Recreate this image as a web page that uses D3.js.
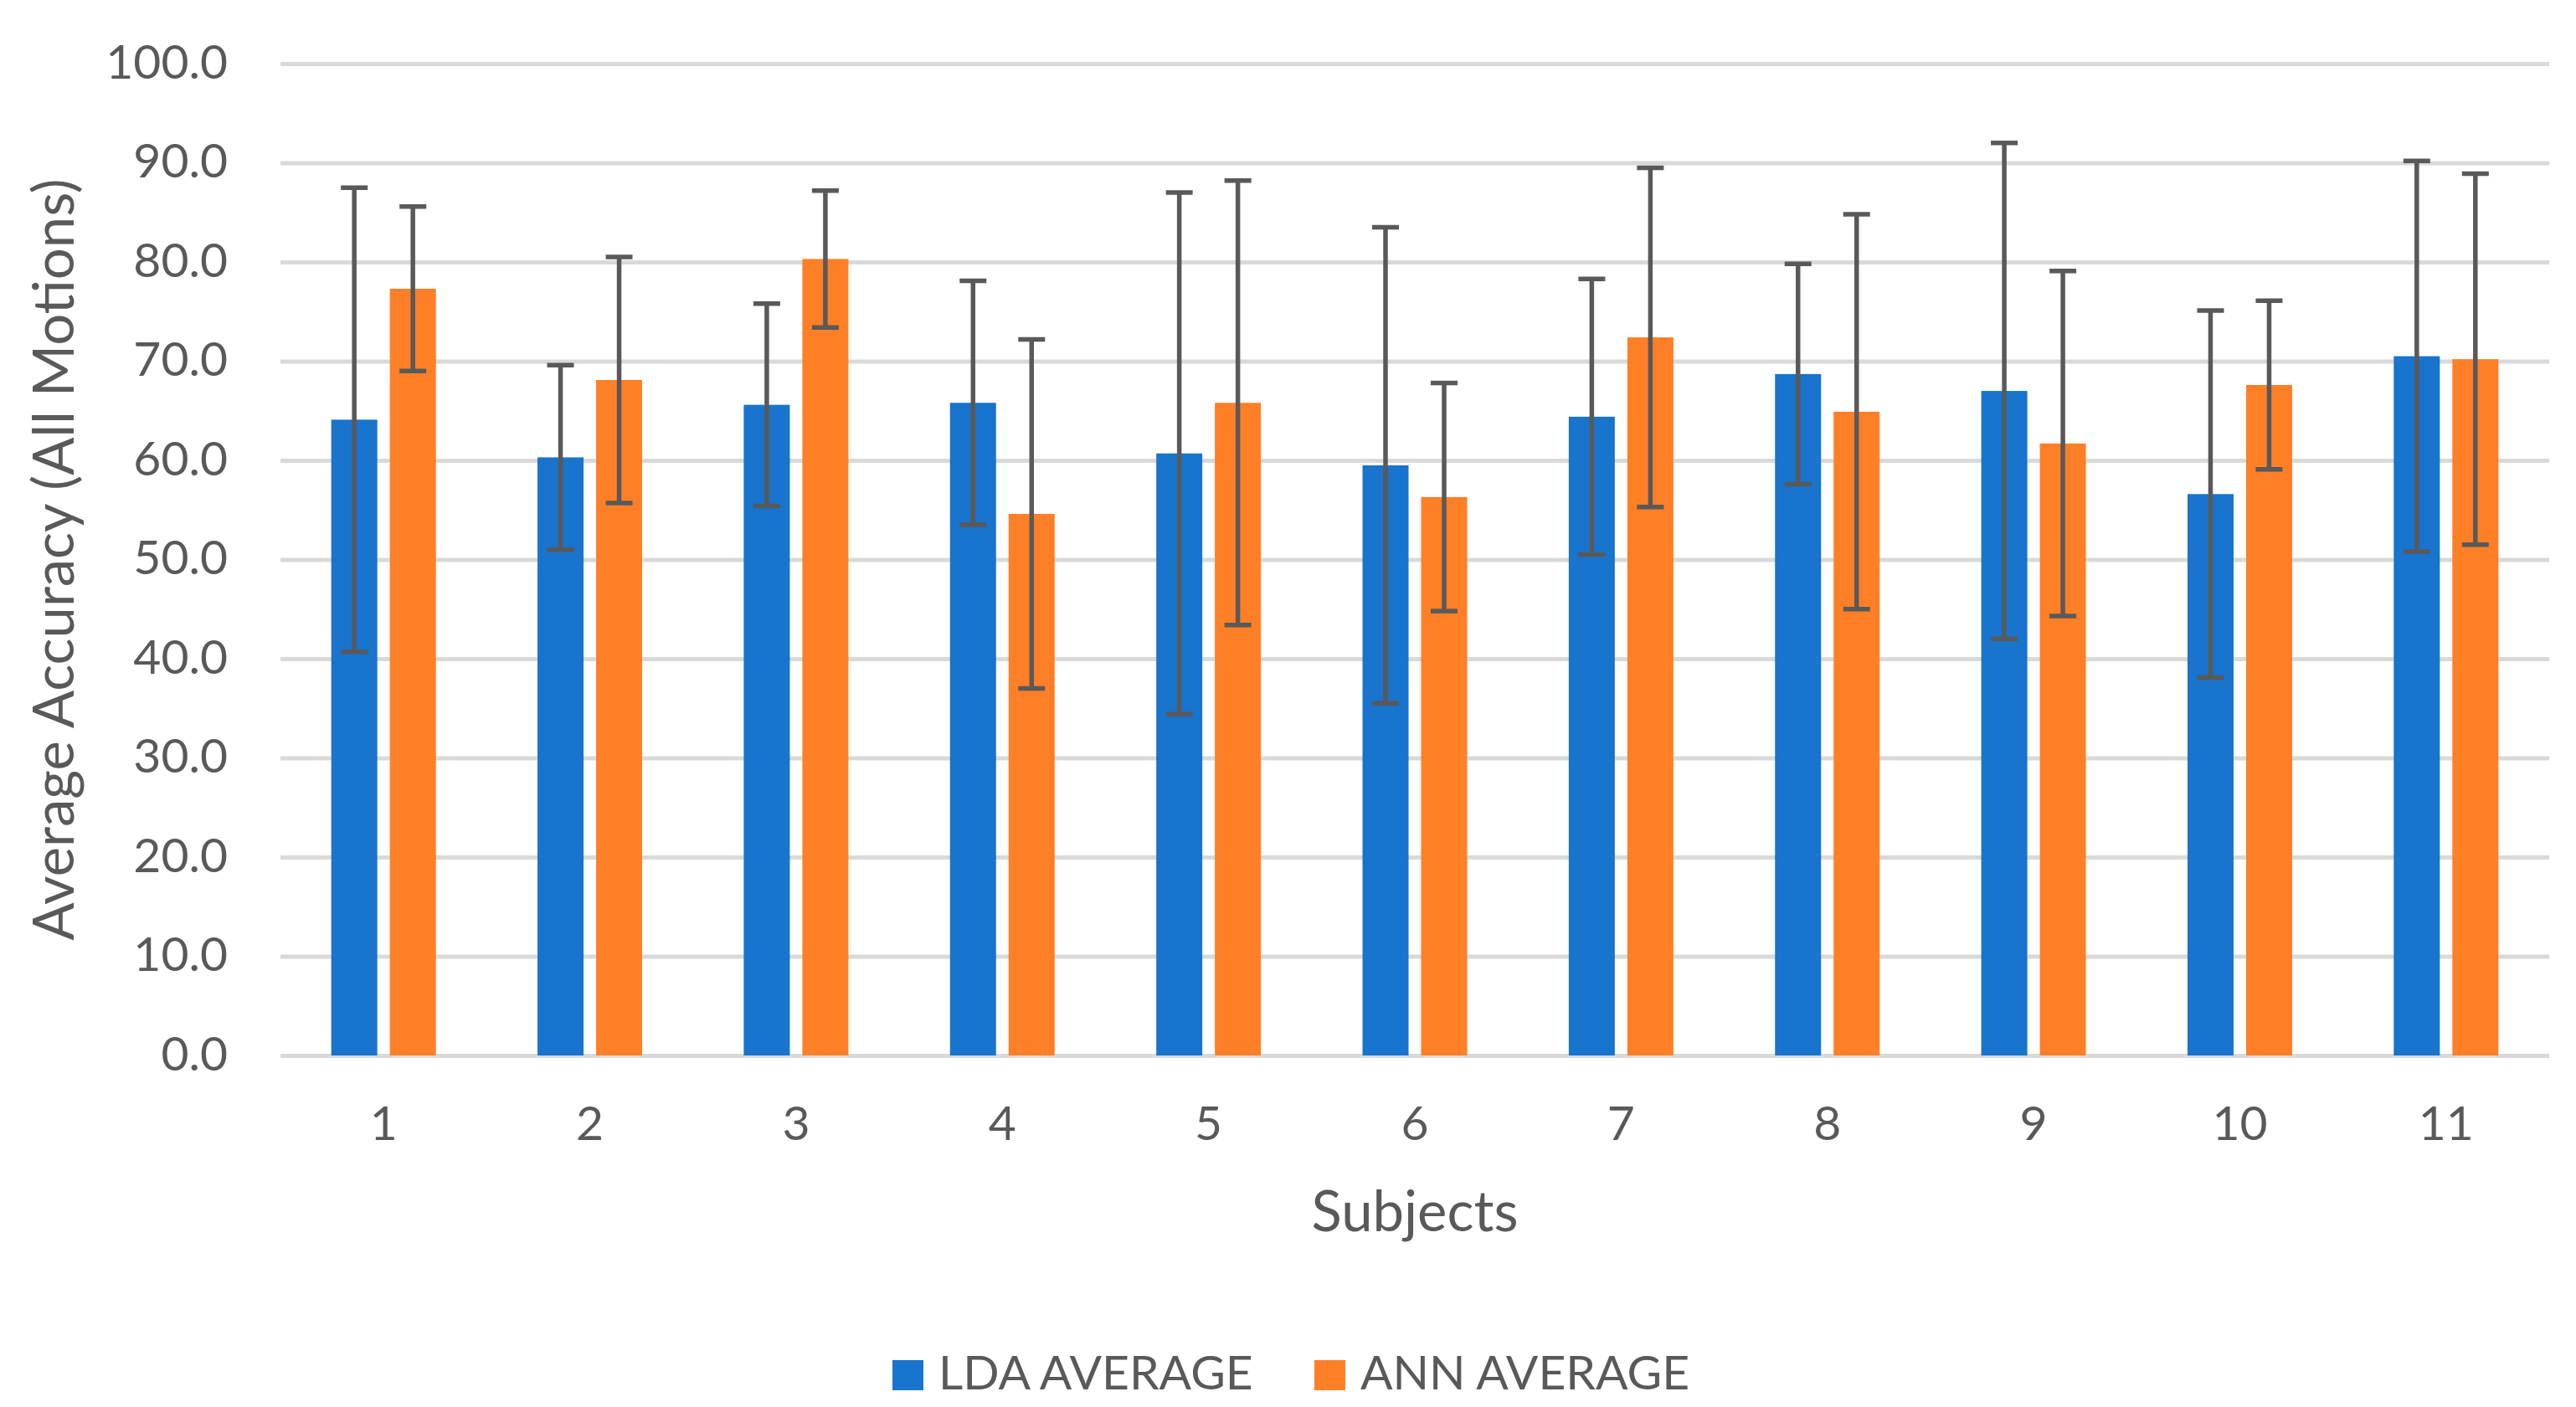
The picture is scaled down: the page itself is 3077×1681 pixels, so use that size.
<!DOCTYPE html>
<html>
<head>
<meta charset="utf-8">
<script src="https://cdn.jsdelivr.net/npm/d3@7"></script>
<style>
  body { margin: 0; background: #ffffff; }
  text { font-family: Lato, "Open Sans", sans-serif; fill: #595959; }
</style>
</head>
<body>
<div id="chart"></div>
<script>

/////////// DATA ******************************************
// *******************************************************************

var subjects = ["1", "2", "3", "4", "5", "6", "7", "8", "9", "10", "11"];
var seriesNames = ["LDA AVERAGE", "ANN AVERAGE"];

// mean accuracy per subject
var ldaAverage = [64.1, 60.3, 65.6, 65.8, 60.7, 59.5, 64.4, 68.7, 67.0, 56.6, 70.5];
var annAverage = [77.3, 68.1, 80.3, 54.6, 65.8, 56.3, 72.4, 64.9, 61.7, 67.6, 70.2];

// error bar half-lengths (+/-)
var ldaError = [23.4, 9.3, 10.2, 12.3, 26.3, 24.0, 13.9, 11.1, 25.0, 18.5, 19.7];
var annError = [8.3, 12.4, 6.9, 17.6, 22.4, 11.5, 17.1, 19.9, 17.4, 8.5, 18.7];

var yTicks = [0, 10, 20, 30, 40, 50, 60, 70, 80, 90, 100];

/////////// SET-UP SVG AREA ******************************************
// *******************************************************************

var svgWidth = 3077;
var svgHeight = 1681;

var margin = { top: 76, right: 32, bottom: 420, left: 335 };
var chartWidth = svgWidth - margin.left - margin.right;
var chartHeight = svgHeight - margin.top - margin.bottom;

var colors = ["#1874CD", "#FF7F27"];

var svg = d3.select("#chart")
  .append("svg")
  .attr("width", svgWidth)
  .attr("height", svgHeight);

var chartGroup = svg.append("g")
  .attr("transform", `translate(${margin.left}, ${margin.top})`);

/////////// SCALES ******************************************
// *******************************************************************

var xScale = d3.scaleBand()
  .domain(subjects)
  .range([0, chartWidth]);

var barWidth = 55;
var barGap = 15;

var xSeries = d3.scaleOrdinal()
  .domain(seriesNames)
  .range([-(barWidth + barGap) / 2, (barWidth + barGap) / 2]);

var yScale = d3.scaleLinear()
  .domain([0, 100])
  .range([chartHeight, 0]);

// rows of {subject, series, value, err}
var rows = [];
subjects.forEach(function(s, i) {
  rows.push({ subject: s, series: seriesNames[0], value: ldaAverage[i], err: ldaError[i], color: colors[0] });
  rows.push({ subject: s, series: seriesNames[1], value: annAverage[i], err: annError[i], color: colors[1] });
});

function centerX(d) {
  return xScale(d.subject) + xScale.bandwidth() / 2 + xSeries(d.series);
}

/////////// GRIDLINES + AXES ******************************************
// *******************************************************************

var yAxis = d3.axisLeft(yScale)
  .tickValues(yTicks)
  .tickSize(-chartWidth)
  .tickPadding(63)
  .tickFormat(d3.format(".1f"));

var yAxisGroup = chartGroup.append("g").call(yAxis);
yAxisGroup.select(".domain").remove();
yAxisGroup.selectAll("line")
  .attr("stroke", "#D9D9D9")
  .attr("stroke-width", 5);
yAxisGroup.selectAll("text")
  .attr("font-size", 57)
  .attr("dy", 17)
  .attr("fill", "#595959");

var xAxis = d3.axisBottom(xScale).tickSize(0).tickPadding(0);
var xAxisGroup = chartGroup.append("g")
  .attr("transform", `translate(0, ${chartHeight})`)
  .call(xAxis);
xAxisGroup.select(".domain").remove();
xAxisGroup.selectAll("text")
  .attr("font-size", 57)
  .attr("y", 101)
  .attr("dy", 0)
  .attr("fill", "#595959");

/////////// BARS ******************************************
// *******************************************************************

chartGroup.selectAll(".bar")
  .data(rows)
  .enter()
  .append("rect")
  .attr("class", "bar")
  .attr("x", d => centerX(d) - barWidth / 2)
  .attr("y", d => yScale(d.value))
  .attr("width", barWidth)
  .attr("height", d => yScale(0) - yScale(d.value))
  .attr("fill", d => d.color);

/////////// ERROR BARS ******************************************
// *******************************************************************

var capWidth = 32;
var errGroup = chartGroup.selectAll(".err")
  .data(rows)
  .enter()
  .append("g")
  .attr("class", "err")
  .attr("stroke", "#595959")
  .attr("stroke-width", 5.5);

errGroup.append("line")
  .attr("x1", d => centerX(d))
  .attr("x2", d => centerX(d))
  .attr("y1", d => yScale(d.value + d.err))
  .attr("y2", d => yScale(d.value - d.err));

errGroup.append("line")
  .attr("x1", d => centerX(d) - capWidth / 2)
  .attr("x2", d => centerX(d) + capWidth / 2)
  .attr("y1", d => yScale(d.value + d.err))
  .attr("y2", d => yScale(d.value + d.err));

errGroup.append("line")
  .attr("x1", d => centerX(d) - capWidth / 2)
  .attr("x2", d => centerX(d) + capWidth / 2)
  .attr("y1", d => yScale(d.value - d.err))
  .attr("y2", d => yScale(d.value - d.err));

/////////// AXIS TITLES ******************************************
// *******************************************************************

svg.append("text")
  .attr("transform", `translate(${margin.left + chartWidth / 2}, 1471)`)
  .attr("text-anchor", "middle")
  .attr("font-size", 67)
  .text("Subjects");

svg.append("text")
  .attr("transform", `translate(88, ${margin.top + chartHeight / 2}) rotate(-90)`)
  .attr("text-anchor", "middle")
  .attr("font-size", 67)
  .text("Average Accuracy (All Motions)");

/////////// LEGEND ******************************************
// *******************************************************************

var legendX = [1066, 1570];
var legend = svg.selectAll(".legend")
  .data(seriesNames)
  .enter()
  .append("g")
  .attr("class", "legend")
  .attr("transform", (d, i) => `translate(${legendX[i]}, 1625)`);

legend.append("rect")
  .attr("width", 37)
  .attr("height", 36)
  .attr("fill", (d, i) => colors[i]);

legend.append("text")
  .attr("x", 55)
  .attr("y", 35)
  .attr("font-size", 57)
  .text(d => d);

</script>
</body>
</html>
